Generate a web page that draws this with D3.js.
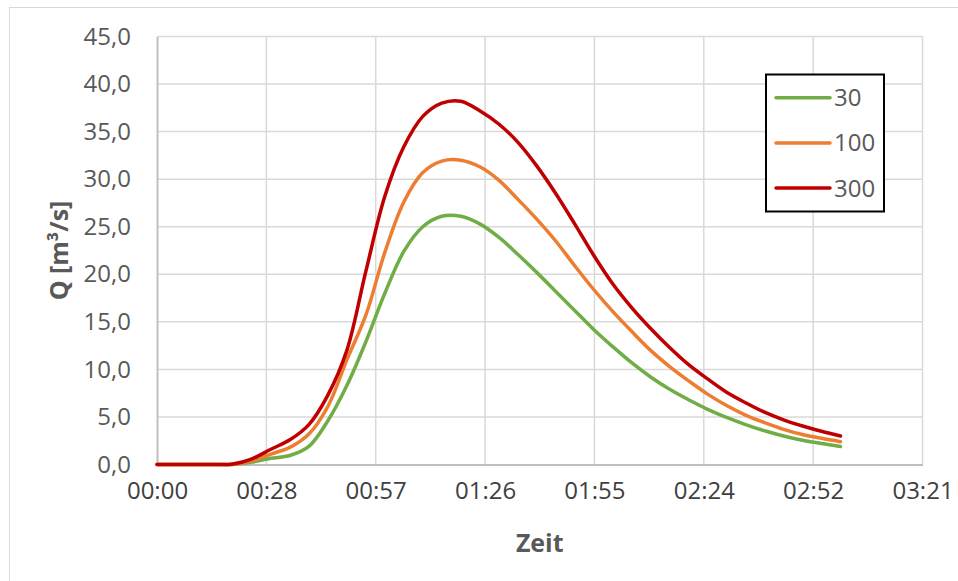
<!DOCTYPE html>
<html>
<head>
<meta charset="utf-8">
<script src="https://cdn.jsdelivr.net/npm/d3@7"></script>
<style>
  body { margin: 0; background: #fff; }
  text { font-family: "Open Sans", "Noto Sans", sans-serif; }
</style>
</head>
<body>
<div id="chart"></div>
<script>
// time in minutes, values in m³/s
const times = [0, 5, 10, 15, 20, 25, 30, 35, 40, 45, 50, 55, 60, 65, 70, 75, 80, 85, 90,
  95, 100, 105, 110, 115, 120, 125, 130, 135, 140, 145, 150, 155, 160, 165, 170, 175, 180];

const q30 = [0, 0, 0, 0, 0, 0.25, 0.65, 0.95, 1.9, 4.6, 8.3, 12.9, 18.0, 22.4, 25.0, 26.1, 26.1, 25.3, 23.9,
  22.1, 20.2, 18.2, 16.2, 14.2, 12.4, 10.7, 9.2, 7.9, 6.8, 5.8, 4.95, 4.2, 3.55, 3.0, 2.55, 2.2, 1.9];
const q100 = [0, 0, 0, 0, 0.02, 0.4, 1.1, 1.8, 3.2, 6.1, 11.0, 15.7, 22.3, 27.6, 30.7, 31.9, 32.0, 31.3, 29.9,
  27.9, 25.8, 23.5, 20.9, 18.4, 16.1, 14.0, 12.0, 10.3, 8.8, 7.4, 6.2, 5.2, 4.4, 3.7, 3.15, 2.75, 2.4];
const q300 = [0, 0, 0, 0, 0.05, 0.6, 1.6, 2.6, 4.2, 7.3, 12.0, 20.3, 28.2, 33.4, 36.6, 38.0, 38.2, 37.2, 35.8,
  33.9, 31.4, 28.5, 25.3, 22.0, 19.0, 16.5, 14.3, 12.3, 10.5, 9.0, 7.6, 6.5, 5.5, 4.7, 4.05, 3.5, 3.0];

const seriesNames = ["30", "100", "300"];
const seriesColors = ["#70ad47", "#ed7d31", "#c00000"];
const xTicks = [0, 28.8, 57.6, 86.4, 115.2, 144, 172.8, 201.6];
const xTickLabels = ["00:00", "00:28", "00:57", "01:26", "01:55", "02:24", "02:52", "03:21"];
const yTicks = [0, 5, 10, 15, 20, 25, 30, 35, 40, 45];

const series = [q30, q100, q300].map((vals, i) => ({
  name: seriesNames[i],
  color: seriesColors[i],
  values: times.map((t, j) => ({t: t, q: vals[j]}))
}));

const W = 958, H = 581;
const plot = {left: 157, right: 922.5, top: 36.5, bottom: 464.5};

const svg = d3.select("#chart").append("svg")
  .attr("width", W)
  .attr("height", H);

// chart frame
svg.append("rect")
  .attr("x", 9.5).attr("y", 7.5)
  .attr("width", W + 20).attr("height", H + 20)
  .attr("fill", "none")
  .attr("stroke", "#d9d9d9")
  .attr("stroke-width", 1);

const x = d3.scaleLinear().domain([0, 201.6]).range([plot.left, plot.right]);
const y = d3.scaleLinear().domain([0, 45]).range([plot.bottom, plot.top]);

// gridlines
svg.append("g")
  .selectAll("line")
  .data(yTicks.slice(1))
  .join("line")
  .attr("x1", plot.left).attr("x2", plot.right)
  .attr("y1", d => y(d)).attr("y2", d => y(d))
  .attr("stroke", "#d9d9d9").attr("stroke-width", 1.5);

svg.append("g")
  .selectAll("line")
  .data(xTicks.slice(1))
  .join("line")
  .attr("x1", d => x(d)).attr("x2", d => x(d))
  .attr("y1", plot.top).attr("y2", plot.bottom)
  .attr("stroke", "#d9d9d9").attr("stroke-width", 1.5);

// axes
const xAxis = d3.axisBottom(x)
  .tickValues(xTicks)
  .tickFormat((d, i) => xTickLabels[i])
  .tickSize(0)
  .tickPadding(18);

const yAxis = d3.axisLeft(y)
  .tickValues(yTicks)
  .tickFormat(d => d.toFixed(1).replace(".", ","))
  .tickSize(0)
  .tickPadding(26);

const gx = svg.append("g")
  .attr("transform", `translate(0,${plot.bottom})`)
  .call(xAxis);
gx.select(".domain").attr("stroke", "#bfbfbf").attr("stroke-width", 2);
gx.selectAll("text").attr("fill", "#404040").attr("font-size", 24).attr("dy", "0.7em");

const gy = svg.append("g")
  .attr("transform", `translate(${plot.left},0)`)
  .call(yAxis);
gy.select(".domain").attr("stroke", "#bfbfbf").attr("stroke-width", 2);
gy.selectAll("text").attr("fill", "#595959").attr("font-size", 24);

// axis titles
svg.append("text")
  .attr("x", (plot.left + plot.right) / 2)
  .attr("y", 552)
  .attr("text-anchor", "middle")
  .attr("font-size", 25)
  .attr("font-weight", "bold")
  .attr("fill", "#595959")
  .text("Zeit");

svg.append("text")
  .attr("transform", `translate(68,${(plot.top + plot.bottom) / 2}) rotate(-90)`)
  .attr("text-anchor", "middle")
  .attr("font-size", 25)
  .attr("font-weight", "bold")
  .attr("fill", "#595959")
  .text("Q [m³/s]");

// lines
const line = d3.line()
  .x(d => x(d.t))
  .y(d => y(d.q))
  .curve(d3.curveCatmullRom.alpha(0.5));

svg.append("g")
  .selectAll("path")
  .data(series)
  .join("path")
  .attr("d", d => line(d.values))
  .attr("fill", "none")
  .attr("stroke", d => d.color)
  .attr("stroke-width", 3.5)
  .attr("stroke-linejoin", "round")
  .attr("stroke-linecap", "round");

// legend
const legend = svg.append("g");
legend.append("rect")
  .attr("x", 766).attr("y", 74.5)
  .attr("width", 118).attr("height", 137)
  .attr("fill", "#fff")
  .attr("stroke", "#000")
  .attr("stroke-width", 2);

const item = legend.selectAll("g")
  .data(series)
  .join("g")
  .attr("transform", (d, i) => `translate(0,${97.7 + i * 45.2})`);

item.append("line")
  .attr("x1", 776).attr("x2", 830)
  .attr("stroke", d => d.color)
  .attr("stroke-width", 3.5)
  .attr("stroke-linecap", "round");

item.append("text")
  .attr("x", 834)
  .attr("dy", "0.35em")
  .attr("font-size", 24)
  .attr("fill", "#595959")
  .text(d => d.name);
</script>
</body>
</html>
